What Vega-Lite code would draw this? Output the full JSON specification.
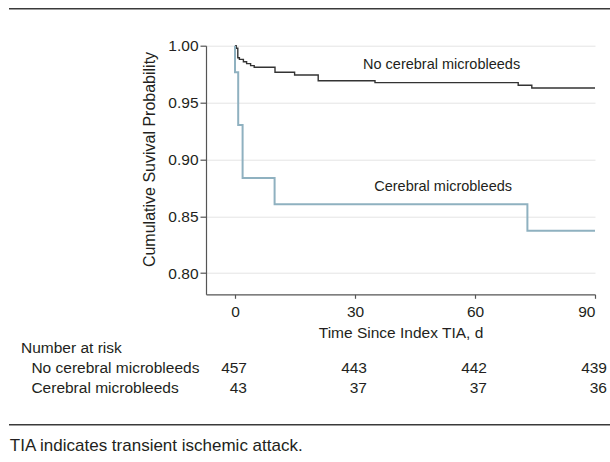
{
  "$schema": "https://vega.github.io/schema/vega-lite/v6.json",
  "autosize": {"type": "none"},
  "padding": {"left": 206, "top": 45.7, "right": 15, "bottom": 167.7},
  "width": 389,
  "height": 248.6,
  "background": "white",
  "config": {
    "font": "Liberation Sans",
    "view": {"stroke": null},
    "text": {"font": "Liberation Sans", "color": "#231f20"},
    "axis": {
      "domainColor": "#555555",
      "domainWidth": 1.2,
      "tickColor": "#555555",
      "tickWidth": 1.2,
      "gridColor": "#e4e4e4",
      "gridWidth": 1,
      "labelColor": "#231f20",
      "titleColor": "#231f20",
      "labelFont": "Liberation Sans",
      "titleFont": "Liberation Sans",
      "labelFontSize": 15.5,
      "titleFontSize": 15.5,
      "titleFontWeight": "normal"
    }
  },
  "datasets": {
    "curves": [
      {"group": "No cerebral microbleeds", "day": 0, "surv": 1.0},
      {"group": "No cerebral microbleeds", "day": 0.3, "surv": 0.9978},
      {"group": "No cerebral microbleeds", "day": 0.7, "surv": 0.9894},
      {"group": "No cerebral microbleeds", "day": 1.1, "surv": 0.988},
      {"group": "No cerebral microbleeds", "day": 2.1, "surv": 0.9859},
      {"group": "No cerebral microbleeds", "day": 2.9, "surv": 0.9842},
      {"group": "No cerebral microbleeds", "day": 3.9, "surv": 0.9825},
      {"group": "No cerebral microbleeds", "day": 4.8, "surv": 0.981},
      {"group": "No cerebral microbleeds", "day": 10, "surv": 0.9766},
      {"group": "No cerebral microbleeds", "day": 14.9, "surv": 0.9742},
      {"group": "No cerebral microbleeds", "day": 20.8, "surv": 0.9692},
      {"group": "No cerebral microbleeds", "day": 35, "surv": 0.9675},
      {"group": "No cerebral microbleeds", "day": 70.8, "surv": 0.9652},
      {"group": "No cerebral microbleeds", "day": 74.2, "surv": 0.9628},
      {"group": "No cerebral microbleeds", "day": 90, "surv": 0.9628},
      {"group": "Cerebral microbleeds", "day": 0, "surv": 1.0},
      {"group": "Cerebral microbleeds", "day": 0, "surv": 0.9767},
      {"group": "Cerebral microbleeds", "day": 0.8, "surv": 0.9302},
      {"group": "Cerebral microbleeds", "day": 1.9, "surv": 0.8837},
      {"group": "Cerebral microbleeds", "day": 9.9, "surv": 0.8605},
      {"group": "Cerebral microbleeds", "day": 73.1, "surv": 0.8372},
      {"group": "Cerebral microbleeds", "day": 90, "surv": 0.8372}
    ],
    "risk": [
      {"group": "No cerebral microbleeds", "day": 0, "n": 457},
      {"group": "No cerebral microbleeds", "day": 30, "n": 443},
      {"group": "No cerebral microbleeds", "day": 60, "n": 442},
      {"group": "No cerebral microbleeds", "day": 90, "n": 439},
      {"group": "Cerebral microbleeds", "day": 0, "n": 43},
      {"group": "Cerebral microbleeds", "day": 30, "n": 37},
      {"group": "Cerebral microbleeds", "day": 60, "n": 37},
      {"group": "Cerebral microbleeds", "day": 90, "n": 36}
    ],
    "one": [{}]
  },
  "layer": [
    {
      "data": {"name": "curves"},
      "mark": {"type": "line", "interpolate": "step-after"},
      "encoding": {
        "x": {
          "field": "day", "type": "quantitative",
          "scale": {"domain": [-7.25, 90], "nice": false, "zero": false},
          "axis": {"values": [0, 30, 60, 90], "title": "Time Since Index TIA, d", "grid": false, "tickSize": 4, "labelPadding": 6.5, "titleY": 37.7, "titleBaseline": "middle"}
        },
        "y": {
          "field": "surv", "type": "quantitative",
          "scale": {"domain": [0.7813, 1], "nice": false, "zero": false},
          "axis": {"values": [0.8, 0.85, 0.9, 0.95, 1], "format": ".2f", "title": "Cumulative Suvival Probability", "grid": true, "tickSize": 6, "labelPadding": 2, "titleAngle": -90, "titleX": -57, "titleY": 113.3, "titleBaseline": "middle", "titleAlign": "center", "titleFontSize": 16}
        },
        "color": {"field": "group", "type": "nominal", "scale": {"domain": ["No cerebral microbleeds", "Cerebral microbleeds"], "range": ["#333333", "#8fb1c0"]}, "legend": null},
        "strokeWidth": {"field": "group", "type": "nominal", "scale": {"domain": ["No cerebral microbleeds", "Cerebral microbleeds"], "range": [1.4, 2]}, "legend": null}
      }
    },
    {
      "data": {"name": "one"},
      "mark": {"type": "text", "align": "left", "baseline": "middle", "fontSize": 14.5},
      "encoding": {
        "x": {"datum": 32.0, "type": "quantitative"},
        "y": {"datum": 0.983, "type": "quantitative"},
        "text": {"value": "No cerebral microbleeds"}
      }
    },
    {
      "data": {"name": "one"},
      "mark": {"type": "text", "align": "left", "baseline": "middle", "fontSize": 14.5},
      "encoding": {
        "x": {"datum": 34.8, "type": "quantitative"},
        "y": {"datum": 0.8754, "type": "quantitative"},
        "text": {"value": "Cerebral microbleeds"}
      }
    },
    {
      "data": {"name": "one"},
      "mark": {"type": "rule", "color": "#3a3a3a", "strokeWidth": 1.5},
      "encoding": {
        "x": {"datum": -56.5, "type": "quantitative"},
        "x2": {"datum": 93.75},
        "y": {"datum": 1.0326, "type": "quantitative"}
      }
    },
    {
      "data": {"name": "one"},
      "mark": {"type": "rule", "color": "#3a3a3a", "strokeWidth": 1.5},
      "encoding": {
        "x": {"datum": -56.5, "type": "quantitative"},
        "x2": {"datum": 93.75},
        "y": {"datum": 0.6665, "type": "quantitative"}
      }
    },
    {
      "data": {"name": "one"},
      "mark": {"type": "text", "align": "left", "baseline": "middle", "fontSize": 15.5},
      "encoding": {
        "x": {"datum": -53.5, "type": "quantitative"},
        "y": {"datum": 0.734, "type": "quantitative"},
        "text": {"value": "Number at risk"}
      }
    },
    {
      "data": {"name": "one"},
      "mark": {"type": "text", "align": "left", "baseline": "middle", "fontSize": 15.5},
      "encoding": {
        "x": {"datum": -50.9, "type": "quantitative"},
        "y": {"datum": 0.7162, "type": "quantitative"},
        "text": {"value": "No cerebral microbleeds"}
      }
    },
    {
      "data": {"name": "one"},
      "mark": {"type": "text", "align": "left", "baseline": "middle", "fontSize": 15.5},
      "encoding": {
        "x": {"datum": -50.9, "type": "quantitative"},
        "y": {"datum": 0.6986, "type": "quantitative"},
        "text": {"value": "Cerebral microbleeds"}
      }
    },
    {
      "data": {"name": "risk"},
      "transform": [{"filter": "datum.group === 'No cerebral microbleeds'"}],
      "mark": {"type": "text", "align": "right", "baseline": "middle", "fontSize": 15.5, "dx": 12},
      "encoding": {
        "x": {"field": "day", "type": "quantitative"},
        "y": {"datum": 0.7162, "type": "quantitative"},
        "text": {"field": "n", "type": "quantitative"}
      }
    },
    {
      "data": {"name": "risk"},
      "transform": [{"filter": "datum.group === 'Cerebral microbleeds'"}],
      "mark": {"type": "text", "align": "right", "baseline": "middle", "fontSize": 15.5, "dx": 12},
      "encoding": {
        "x": {"field": "day", "type": "quantitative"},
        "y": {"datum": 0.6986, "type": "quantitative"},
        "text": {"field": "n", "type": "quantitative"}
      }
    },
    {
      "data": {"name": "one"},
      "mark": {"type": "text", "align": "left", "baseline": "middle", "fontSize": 17},
      "encoding": {
        "x": {"datum": -56.3, "type": "quantitative"},
        "y": {"datum": 0.648, "type": "quantitative"},
        "text": {"value": "TIA indicates transient ischemic attack."}
      }
    }
  ]
}
